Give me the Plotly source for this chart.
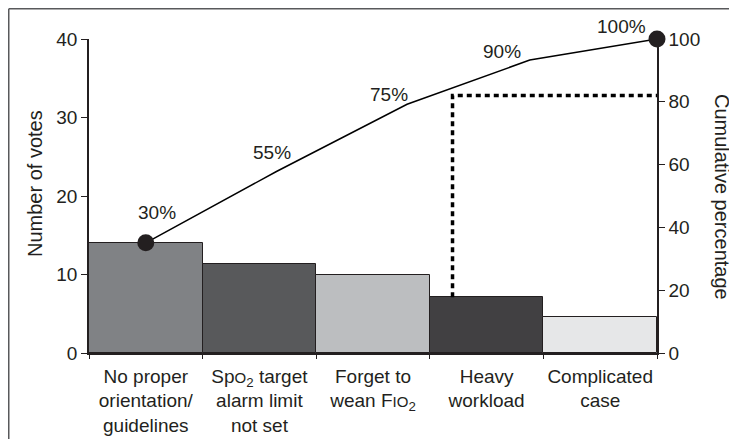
import plotly.graph_objects as go

# ---- data ----
categories = [
    "No proper<br>orientation/<br>guidelines",
    "Sp<span style='font-size:15px'>O</span><sub>2</sub> target<br>alarm limit<br>not set",
    "Forget to<br>wean F<span style='font-size:15px'>IO</span><sub>2</sub>",
    "Heavy<br>workload",
    "Complicated<br>case",
]
votes = [14.0, 11.3, 9.9, 7.1, 4.6]
bar_colors = ["#808285", "#58595b", "#bcbec0", "#414042", "#e6e7e8"]

cum_positions = [0.0, 1.15, 2.3, 3.38, 4.5]
cum_values = [35.1, 57.8, 79.2, 93.3, 100.0]
cum_labels = ["30%", "55%", "75%", "90%", "100%"]
label_offsets = [(11, 30), (-4, 19), (-18, 10), (-28, 9), (-36, 13)]

cutoff_position = 2.7
cutoff_level = 82.0

left_ticks = [0, 10, 20, 30, 40]
right_ticks = [0, 20, 40, 60, 80, 100]

INK = "#231f20"
FONT = "Liberation Sans, Arial, sans-serif"
left_max = 40
right_max = 100
scale = right_max / left_max

# page body adds 8px margin; figure sized so that the plot area lands right
W, H = 729, 431
ML, MR, MT, MB = 81, 80, 31, 86
PW, PH = W - ML - MR, H - MT - MB

fig = go.Figure()

fig.add_trace(go.Bar(
    x=categories, y=votes,
    marker=dict(color=bar_colors, line=dict(color=INK, width=1)),
    width=1.0, showlegend=False, hoverinfo="skip",
))

# dotted Pareto cut-off
fig.add_trace(go.Scatter(
    x=[cutoff_position, cutoff_position, cum_positions[-1]],
    y=[votes[3] * scale, cutoff_level, cutoff_level],
    xaxis="x2", yaxis="y2", mode="lines",
    line=dict(color="#000000", width=3.5, dash="5px,4px"),
    showlegend=False, hoverinfo="skip", cliponaxis=False,
))

# cumulative line
fig.add_trace(go.Scatter(
    x=cum_positions, y=cum_values, xaxis="x2", yaxis="y2",
    mode="lines", line=dict(color="#000000", width=1.5),
    showlegend=False, hoverinfo="skip", cliponaxis=False,
))
fig.add_trace(go.Scatter(
    x=[cum_positions[0], cum_positions[-1]], y=[cum_values[0], cum_values[-1]],
    xaxis="x2", yaxis="y2", mode="markers",
    marker=dict(color=INK, size=17),
    showlegend=False, hoverinfo="skip", cliponaxis=False,
))

annotations = []
for xp, yv, lab, (dx, dy) in zip(cum_positions, cum_values, cum_labels, label_offsets):
    annotations.append(dict(
        x=xp, y=yv, xref="x2", yref="y2", text=lab, showarrow=False,
        xshift=dx, yshift=dy, xanchor="center", yanchor="middle",
        font=dict(size=19, color=INK, family=FONT),
    ))

annotations.append(dict(
    x=(35 - 8 - ML) / PW, y=(H - MB - (184 - 8)) / PH, xref="paper", yref="paper",
    text="Number of votes", textangle=-90, showarrow=False,
    xanchor="center", yanchor="middle",
    font=dict(size=20, color=INK, family=FONT),
))
annotations.append(dict(
    x=(722 - 8 - ML) / PW, y=(H - MB - (197 - 8)) / PH, xref="paper", yref="paper",
    text="Cumulative percentage", textangle=90, showarrow=False,
    xanchor="center", yanchor="middle",
    font=dict(size=20, color=INK, family=FONT),
))

frame = dict(color="#58595b", width=1.5)
x_left = (0.75 - ML) / PW
y_top = (H - MB - 0.75) / PH

fig.update_layout(
    width=W, height=H,
    margin=dict(l=ML, r=MR, t=MT, b=MB, autoexpand=False),
    paper_bgcolor="white", plot_bgcolor="white",
    font=dict(family=FONT, size=19, color=INK),
    bargap=0,
    annotations=annotations,
    shapes=[
        dict(type="line", xref="paper", yref="paper",
             x0=x_left, x1=1.3, y0=y_top, y1=y_top, line=frame, layer="below"),
        dict(type="line", xref="paper", yref="paper",
             x0=x_left, x1=x_left, y0=y_top, y1=-0.5, line=frame, layer="below"),
    ],
    xaxis=dict(
        type="category", showline=True, linecolor=INK, linewidth=1.5,
        ticks="outside", tickson="boundaries", ticklen=4, tickcolor=INK,
        ticklabelstandoff=5, tickangle=0, automargin=False,
        tickfont=dict(size=19, color=INK, family=FONT),
        showgrid=False, zeroline=False, range=[-0.5, 4.5], fixedrange=True,
    ),
    xaxis2=dict(
        overlaying="x", range=[-0.5, 4.5], visible=False, anchor="y2",
    ),
    yaxis=dict(
        range=[0, left_max], tickvals=left_ticks, showline=True, linecolor=INK,
        linewidth=1.5, ticks="outside", ticklen=6, tickcolor=INK,
        showgrid=False, zeroline=False, automargin=False,
        tickfont=dict(size=19, color=INK, family=FONT),
    ),
    yaxis2=dict(
        overlaying="y", side="right", anchor="x", range=[0, right_max],
        tickvals=right_ticks, showline=True, linecolor=INK, linewidth=1.5,
        ticks="outside", ticklen=6, tickcolor=INK, showgrid=False,
        zeroline=False, automargin=False,
        tickfont=dict(size=19, color=INK, family=FONT),
    ),
)

fig.write_html("out.html")
